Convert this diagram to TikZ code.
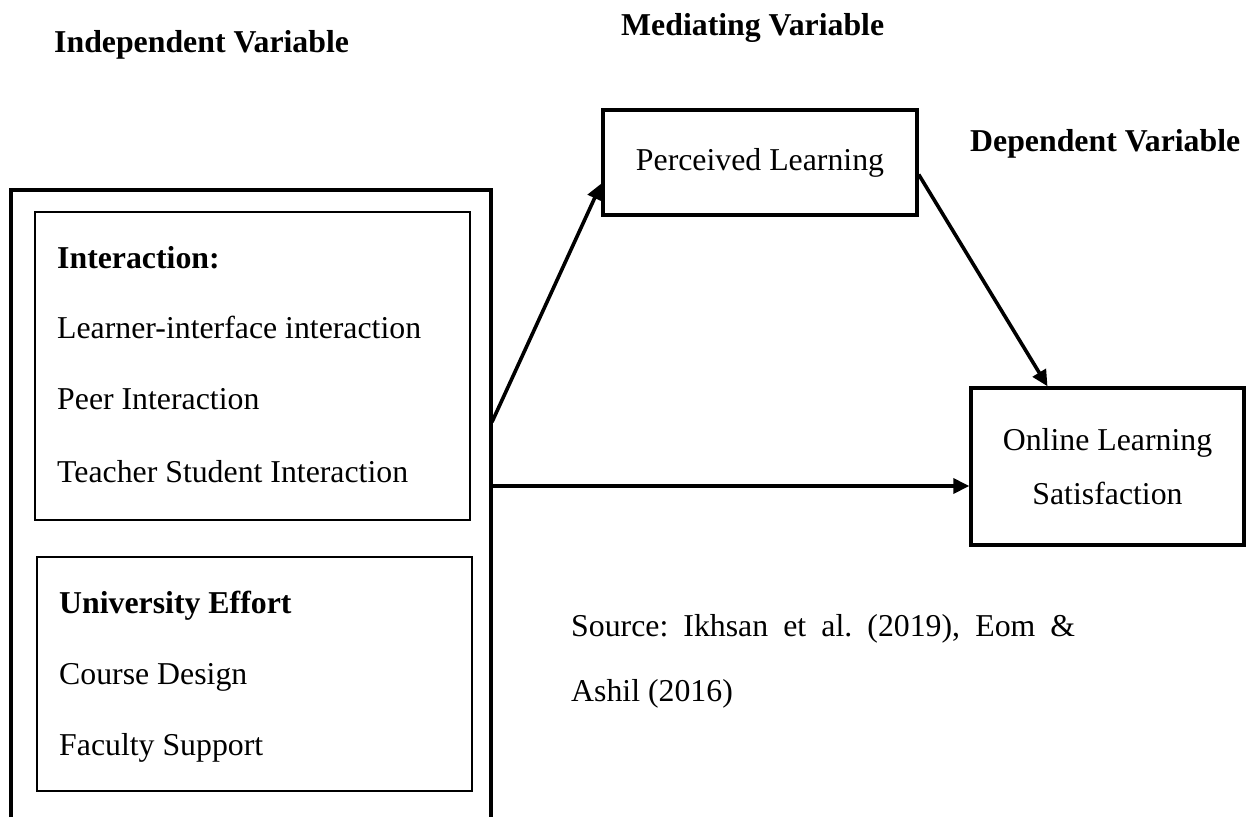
\documentclass[tikz,border=0pt]{standalone}
\usepackage{fontspec}
\setmainfont{Liberation Serif}
\usetikzlibrary{arrows.meta}
\begin{document}
\frenchspacing
\begin{tikzpicture}[x=1pt,y=-1pt,
  txt/.style={anchor=base west,inner sep=0pt,font=\fontsize{31.8}{38}\selectfont},
  head/.style={txt,font=\fontsize{31.8}{38}\selectfont\bfseries},
  innerbox/.style={draw,line width=2.4pt,inner sep=0pt},
  varbox/.style={draw,line width=3.4pt,inner sep=0pt,align=center,font=\fontsize{31.8}{54}\selectfont},
  conn/.style={line width=3.6pt,-{Triangle[length=16pt,width=15pt]}}]
\useasboundingbox (0,0) rectangle (1258,817);
% headings
\node[head] (hind) at (54,52) {Independent Variable};
\node[head] (hmed) at (621,35) {Mediating Variable};
\node[head] (hdep) at (970,151) {Dependent Variable};
% outer (open-bottom) box
\draw[line width=3.4pt] (11,817) -- (11,190) -- (491,190) -- (491,817);
% inner box 1
\node[innerbox,minimum width=435pt,minimum height=308pt] (box1) at (252.5,366) {};
\node[head] (t1) at (57,268) {Interaction:};
\node[txt] (t2) at (57,338) {Learner-interface interaction};
\node[txt] (t3) at (57,409) {Peer Interaction};
\node[txt] (t4) at (57,482) {Teacher Student Interaction};
% inner box 2
\node[innerbox,minimum width=435pt,minimum height=234pt] (box2) at (254.5,674) {};
\node[head] (u1) at (59,613) {University Effort};
\node[txt] (u2) at (59,684) {Course Design};
\node[txt] (u3) at (59,755) {Faculty Support};
% variable boxes
\node[varbox,minimum width=314pt,minimum height=105pt] (pl) at (760,162.5) {Perceived Learning};
\node[varbox,minimum width=273pt,minimum height=157pt] (ols) at (1107.5,466.5) {Online Learning\\Satisfaction};
% source
\node[txt] (src1) at (571,636) {\makebox[504pt][s]{Source: Ikhsan et al. (2019), Eom \&}};
\node[txt] (src2) at (571,701) {Ashil (2016)};
% connectors
\coordinate (a1) at (492,422);
\coordinate (a2) at (492,486);
\draw[conn] (a1) -- ([yshift=-21pt]pl.west);
\draw[conn] ([yshift=-12pt]pl.east) -- ([xshift=-60pt]ols.north);
\draw[conn] (a2) -- (ols.west |- a2);
\end{tikzpicture}
\end{document}
